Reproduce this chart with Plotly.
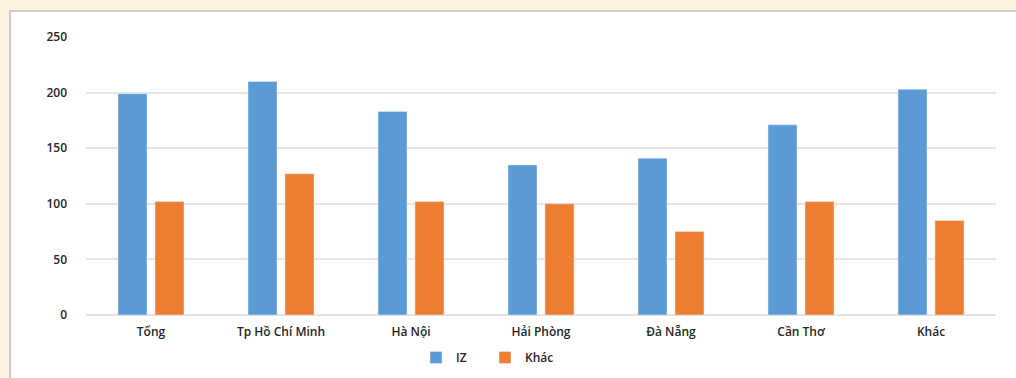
import plotly.graph_objects as go

categories = ["Tổng", "Tp Hồ Chí Minh", "Hà Nội", "Hải Phòng", "Đà Nẵng", "Cần Thơ", "Khác"]
iz_values = [199, 210, 183, 135, 141, 171, 203]
khac_values = [102, 127, 102, 100, 75, 102, 85]
series_names = ["IZ", "Khác"]
y_ticks = [0, 50, 100, 150, 200, 250]

W, H = 1016, 378
ML, MR, MT, MB = 86, 20, 37, 63
pw, ph = W - ML - MR, H - MT - MB

def px_x(p):
    return (p - ML) / pw

def px_y(p):
    return (H - MB - p) / ph

fig = go.Figure()
fig.add_bar(x=categories, y=iz_values, name=series_names[0], marker_color="#5B9BD5")
fig.add_bar(x=categories, y=khac_values, name=series_names[1], marker_color="#ED7D31")

fig.add_shape(type="rect", xref="paper", yref="paper",
              x0=px_x(10), x1=px_x(1030), y0=px_y(390), y1=px_y(11),
              fillcolor="white", line=dict(color="#cfcac2", width=2), layer="below")

font = dict(family="Open Sans", size=12, color="#262626", weight=600)
fig.update_layout(
    width=W, height=H,
    margin=dict(l=ML, r=MR, t=MT, b=MB, autoexpand=False),
    paper_bgcolor="#FEF3E2",
    plot_bgcolor="rgba(0,0,0,0)",
    barmode="group", bargap=0.431, bargroupgap=0.216,
    font=font,
    showlegend=True,
    legend=dict(orientation="h", xref="container", yref="container",
                x=416 / W, xanchor="left", y=(H - 343) / H, yanchor="top",
                entrywidth=24, entrywidthmode="pixels",
                font=dict(family="Open Sans", size=12, color="#262626", weight=600),
                itemwidth=30, bgcolor="rgba(0,0,0,0)"),
    xaxis=dict(showgrid=False, showline=False, ticks="", ticklabelstandoff=8,
               tickfont=font),
    yaxis=dict(range=[0, 250], tickvals=y_ticks, showgrid=True, gridcolor="#e6e6e6",
               gridwidth=1.5, zeroline=True, zerolinecolor="#e2e2e2", zerolinewidth=2,
               ticks="", ticklabelstandoff=18, tickfont=font),
)

fig.write_html("out.html", config={"displayModeBar": False},
               post_script="document.body.style.margin='0';document.body.style.overflow='hidden';")
